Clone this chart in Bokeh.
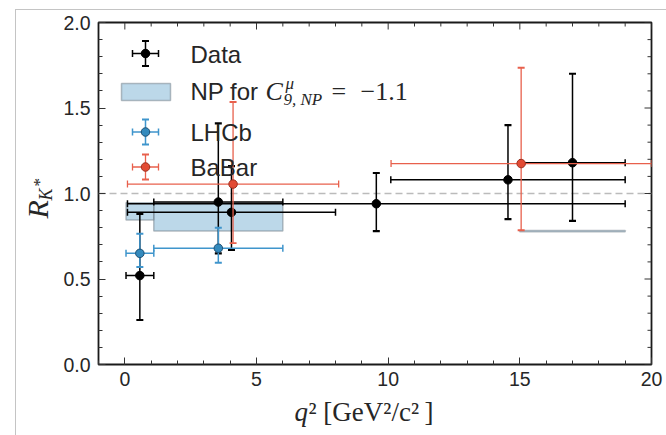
import math
from bokeh.plotting import figure
from bokeh.models import ColumnDataSource, Range1d, Label, LinearAxis, SingleIntervalTicker, Span
from bokeh.embed import file_html
from bokeh.resources import INLINE

# ---------------- data ----------------
# Belle ("Data")
data_x = [0.57, 3.55, 4.05, 9.55, 14.55, 17.0]
data_xlo = [0.045, 1.1, 0.1, 0.1, 10.1, 15.0]
data_xhi = [1.1, 6.0, 8.0, 19.0, 19.0, 19.0]
data_r = [0.52, 0.95, 0.89, 0.94, 1.08, 1.18]
data_up = [0.36, 0.46, 0.27, 0.18, 0.32, 0.52]
data_dn = [0.26, 0.30, 0.22, 0.16, 0.23, 0.34]

# LHCb
lhcb_x = [0.57, 3.55]
lhcb_xlo = [0.045, 1.1]
lhcb_xhi = [1.1, 6.0]
lhcb_r = [0.65, 0.68]
lhcb_up = [0.115, 0.12]
lhcb_dn = [0.08, 0.085]

# BaBar
babar_x = [4.11, 15.05]
babar_xlo = [0.1, 10.11]
babar_xhi = [8.12, 20.0]
babar_r = [1.055, 1.175]
babar_up = [0.48, 0.56]
babar_dn = [0.345, 0.39]

# NP prediction bands for C9_NP = -1.1
np_xlo = [0.045, 1.1, 15.0]
np_xhi = [1.1, 6.0, 19.0]
np_lo = [0.845, 0.78, 0.776]
np_hi = [0.946, 0.946, 0.784]

x_ticks = [0, 5, 10, 15, 20]
y_ticks = [0.0, 0.5, 1.0, 1.5, 2.0]

# ---------------- layout ----------------
W, H = 666, 435
FX0, FX1, FY0, FY1 = 98, 651, 22, 364
XR = (-1.0, 20.0)
YR = (0.0, 2.0)

def dx(px):
    return XR[0] + (px - FX0) * (XR[1] - XR[0]) / (FX1 - FX0)

def dy(py):
    return YR[1] - (py - FY0) * (YR[1] - YR[0]) / (FY1 - FY0)

p = figure(width=W, height=H, x_range=Range1d(*XR), y_range=Range1d(*YR),
           output_backend="svg", toolbar_location=None,
           min_border_left=FX0, min_border_right=W - FX1,
           min_border_top=FY0, min_border_bottom=H - FY1,
           x_axis_location=None, y_axis_location=None)
p.grid.visible = False
p.outline_line_color = "#1a1a1a"
p.outline_line_width = 1.8
p.background_fill_color = "white"
p.border_fill_alpha = 0.0
# thin grey page frame seen around the scanned figure
p.styles = {
    "background-color": "white",
    "background-image": "linear-gradient(#c4c4c4, #c4c4c4), linear-gradient(#c4c4c4, #c4c4c4)",
    "background-size": "1px 426px, 651px 1px",
    "background-position": "15px 9px, 15px 9px",
    "background-repeat": "no-repeat",
}

TICK_FONT = "Liberation Sans"

def make_axis(interval, ticks, fmt):
    ax = LinearAxis(ticker=SingleIntervalTicker(interval=interval, num_minor_ticks=5))
    ax.axis_line_color = None
    ax.major_tick_in = 7
    ax.major_tick_out = 0
    ax.minor_tick_in = 4
    ax.minor_tick_out = 0
    ax.major_tick_line_color = "#333333"
    ax.minor_tick_line_color = "#333333"
    ax.major_tick_line_width = 1
    ax.minor_tick_line_width = 1
    ax.major_label_text_font = TICK_FONT
    ax.major_label_text_font_size = "19.5px"
    ax.major_label_text_color = "#262626"
    ax.major_label_overrides = {t: fmt(t) for t in ticks}
    return ax

xb = make_axis(5, x_ticks, lambda t: f"{t:d}")
xb.major_label_standoff = 7
yl = make_axis(0.5, y_ticks, lambda t: f"{t:.1f}")
yl.major_label_standoff = 8
p.add_layout(xb, "below")
p.add_layout(yl, "left")

# inward ticks on the top and right edges, drawn just inside the frame
def px_to_dy(n):
    return n * (YR[1] - YR[0]) / (FY1 - FY0)

def px_to_dx(n):
    return n * (XR[1] - XR[0]) / (FX1 - FX0)

x_minor = [v for v in range(0, 20) if v % 5 != 0]
y_minor = [v / 10 for v in range(1, 20) if v % 5 != 0]
TICKC = "#333333"
p.segment(x0=x_ticks, x1=x_ticks, y0=[YR[1]] * 5, y1=[YR[1] - px_to_dy(7)] * 5,
          line_color=TICKC, line_width=1)
p.segment(x0=x_minor, x1=x_minor, y0=[YR[1]] * len(x_minor),
          y1=[YR[1] - px_to_dy(4)] * len(x_minor), line_color=TICKC, line_width=1)
p.segment(y0=y_ticks, y1=y_ticks, x0=[XR[1]] * 5, x1=[XR[1] - px_to_dx(7)] * 5,
          line_color=TICKC, line_width=1)
p.segment(y0=y_minor, y1=y_minor, x0=[XR[1]] * len(y_minor),
          x1=[XR[1] - px_to_dx(4)] * len(y_minor), line_color=TICKC, line_width=1)

# reference line at 1
p.add_layout(Span(location=1.0, dimension="width", line_color="#bbbbbb",
                  line_width=1.5, line_dash="7 4", level="underlay"))

# NP bands
BLUE = "#348ABD"
RED = "#E24A33"
p.quad(left=np_xlo, right=np_xhi, bottom=np_lo, top=np_hi,
       fill_color=BLUE, fill_alpha=0.33, line_color="#7a8790", line_alpha=0.55, line_width=1.5)


def errorbars(xc, yc, xlo, xhi, yup, ydn, color, line_color, edge, lw, cap=7, size=8.5):
    src = ColumnDataSource(dict(
        x=list(xc), y=list(yc), xl=list(xlo), xr=list(xhi),
        yl=[y - d for y, d in zip(yc, ydn)], yu=[y + u for y, u in zip(yc, yup)]))
    p.segment(x0="xl", y0="y", x1="xr", y1="y", source=src, line_color=line_color, line_width=lw)
    p.segment(x0="x", y0="yl", x1="x", y1="yu", source=src, line_color=line_color, line_width=lw)
    for col in ("xl", "xr"):
        p.scatter(x=col, y="y", source=src, marker="dash", angle=math.pi / 2, size=cap,
                  line_color=line_color, line_width=lw)
    for col in ("yl", "yu"):
        p.scatter(x="x", y=col, source=src, marker="dash", size=cap,
                  line_color=line_color, line_width=lw + 0.6)
    p.scatter(x="x", y="y", source=src, size=size, fill_color=color, line_color=edge,
              line_width=1)


errorbars(data_x, data_r, data_xlo, data_xhi, data_up, data_dn, "black", "black", "black", 1.5)
errorbars(lhcb_x, lhcb_r, lhcb_xlo, lhcb_xhi, lhcb_up, lhcb_dn, BLUE, "#3f95cc", "#1d4f73", 1.5)
errorbars(babar_x, babar_r, babar_xlo, babar_xhi, babar_up, babar_dn, RED, "#e8604c", "#9e2f1f", 1.3)

# ---------------- legend (drawn by hand) ----------------
def leg_err(px, py, color, line_color, edge, lw):
    errorbars([dx(px)], [dy(py)], [dx(px - 13)], [dx(px + 13)],
              [dy(py - 12.5) - dy(py)], [dy(py) - dy(py + 12.5)], color, line_color, edge, lw)

leg_err(145, 53, "black", "black", "black", 1.5)
p.quad(left=[dx(121)], right=[dx(170)], bottom=[dy(100)], top=[dy(83)],
       fill_color=BLUE, fill_alpha=0.33, line_color="#7a8790", line_alpha=0.55, line_width=1.5)
leg_err(145, 131.5, BLUE, "#3f95cc", "#1d4f73", 1.5)
leg_err(145, 166.5, RED, "#e8604c", "#9e2f1f", 1.3)

SANS = "Liberation Sans"
SERIF = "Liberation Serif"
SHIFT = 0.36  # rendered text sits this fraction of the size lower than asked


def lab(text, px, py, size, font=SANS, style="normal", color="#262626", angle=0.0, place=None):
    # px, py: left end of the baseline, in pixels of the page
    if angle:
        px = px - SHIFT * size
    else:
        py = py - SHIFT * size
    l = Label(x=dx(px), y=dy(py), text=text, text_font=font,
              text_font_size=f"{size}px", text_font_style=style,
              text_color=color, text_align="left", text_baseline="alphabetic", angle=angle)
    if place:
        p.add_layout(l, place)
    else:
        p.add_layout(l)

lab("Data", 190, 62.5, 24)
lab("NP for", 190, 100, 24)
lab("C", 265, 100, 26, SERIF, "italic")
lab("μ", 285, 89, 17, SERIF, "italic")
lab("9, NP", 283, 105, 17, SERIF, "italic")
lab("=", 331, 100, 26, SERIF)
lab("−1.1", 360, 100, 26, SERIF)
lab("LHCb", 190, 141, 24)
lab("BaBar", 190, 176, 24)

# x-axis label  q^2 [GeV^2/c^2]  (texts outside the frame live in the side panels)
lab("q", 294, 421, 27, SERIF, "italic", place="right")
lab("² [GeV²/c²\u2009]", 308, 421, 27, SERIF, place="below")

# y-axis label  R_{K^*}
lab("R", 48, 218, 30, SERIF, "italic", angle=math.pi / 2, place="left")
lab("K", 52, 200, 18, SERIF, "italic", angle=math.pi / 2, place="left")
lab("*", 45, 186, 17, SERIF, "normal", angle=math.pi / 2, place="above")

open("out.html", "w").write(file_html(p, INLINE))
